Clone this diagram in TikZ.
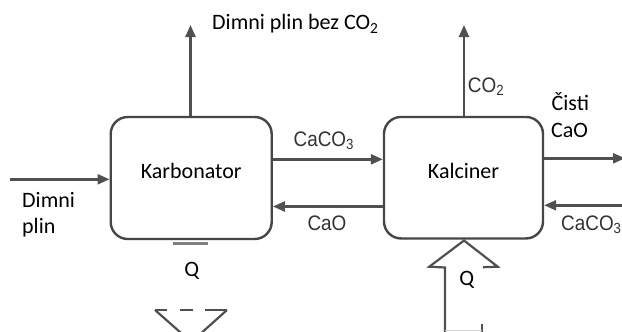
\documentclass[tikz,border=0pt]{standalone}
\usepackage{fontspec}
\setmainfont{Carlito}
\newfontfamily\arialf{Liberation Sans}
\usetikzlibrary{arrows.meta}
\definecolor{linegray}{RGB}{80,80,80}
\definecolor{boxgray}{RGB}{70,70,70}
\definecolor{labgray}{RGB}{50,50,50}
\newcommand{\chemtxt}[1]{\scalebox{0.9}[1]{#1}}
\begin{document}
\begin{tikzpicture}[x=1pt,y=-1pt,
  lbl/.style={font=\fontsize{22}{26}\selectfont, text=black, inner sep=0pt},
  chem/.style={font=\arialf\fontsize{21}{25}\selectfont, text=labgray, inner sep=0pt},
  unit/.style={draw=boxgray, line width=2.4pt, rounded corners=17pt, fill=white,
    font=\fontsize{22}{26}\selectfont, text depth=14pt, inner sep=0pt},
  flow/.style={draw=linegray, line width=2.4pt, -{Triangle[length=12pt,width=10pt]}},
  qline/.style={draw=linegray, line width=2.2pt, line join=miter},
]
\useasboundingbox (0,0) rectangle (622,332);
\clip (0,0) rectangle (622,332);

% units
\node[unit, minimum width=161pt, minimum height=122pt] (karb) at (191.2,178) {Karbonator};
\node[unit, minimum width=159pt, minimum height=121.5pt] (kalc) at (463.5,177.7) {Kalciner};

% free ends and rows
\coordinate (gasout) at (190.5,25);
\coordinate (co2out) at (464,25);
\coordinate (gasin) at (10,179.3);
\coordinate (caoout) at (625,158.3);
\coordinate (caco3in) at (625,205.3);
\coordinate (rowA) at (0,159.3);
\coordinate (rowB) at (0,206.5);

% flows
\draw[flow] (karb.north -| gasout) -- (gasout);
\draw[flow] (kalc.north -| co2out) -- (co2out);
\draw[flow] (gasin) -- (gasin -| karb.west);
\draw[flow] (karb.east |- rowA) -- (kalc.west |- rowA);
\draw[flow] (kalc.west |- rowB) -- (karb.east |- rowB);
\draw[flow] (kalc.east |- caoout) -- (caoout);
\draw[flow] (caco3in) -- (kalc.east |- caco3in);

% labels
\node[lbl, anchor=base west] (t1) at (212,30) {Dimni plin bez CO\textsubscript{2}};
\node[chem, anchor=base west] (t2) at (467.7,92.7) {\chemtxt{CO\textsubscript{2}}};
\node[lbl, anchor=base west] (t3) at (551.5,110.7) {Čisti};
\node[lbl, anchor=base west] (t4) at (551,137) {CaO};
\node[chem, anchor=base] (t5) at (323.8,146) {\chemtxt{CaCO\textsubscript{3}}};
\node[chem, anchor=base] (t6) at (327,230.7) {\chemtxt{CaO}};
\node[chem, anchor=base west] (t7) at (561,230.5) {\chemtxt{CaCO\textsubscript{3}}};
\node[lbl, anchor=base west] (t8) at (22,207) {Dimni};
\node[lbl, anchor=base west] (t9) at (22,233) {plin};
\node[lbl, anchor=base] (q1) at (191.7,276) {Q};
\node[lbl, anchor=base] (q2) at (466.7,285) {Q};

% heat under Karbonator
\draw[draw=gray, line width=3pt] (172.7,243.5) -- (208,243.5);
\draw[qline] (155,310) -- (167,310) (180,310) -- (193,310) (205,310) -- (227,310);
\draw[qline] (155,310) -- (191.3,342) -- (227,310);

% heat into Kalciner
\draw[qline] (445,334) -- (445,267.5) -- (429.3,266.7) -- (464,240.5) -- (497.7,266.7) -- (483,267.2);
\draw[qline] (481.7,324) -- (481.7,334);
\draw[gray!35, line width=1pt] (445,330.5) -- (481.7,330.5);
\end{tikzpicture}
\end{document}
